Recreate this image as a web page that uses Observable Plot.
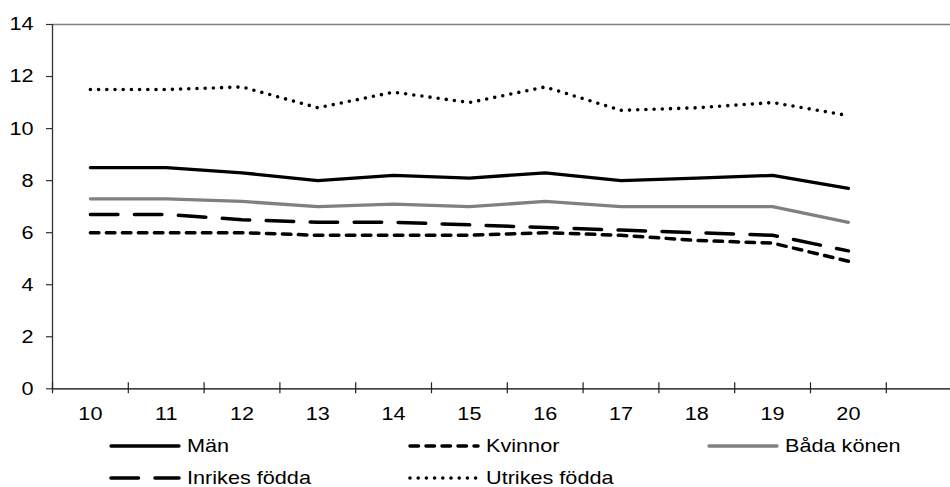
<!DOCTYPE html>
<html>
<head>
<meta charset="utf-8">
<script src="https://cdn.jsdelivr.net/npm/d3@7"></script>
<script src="https://cdn.jsdelivr.net/npm/@observablehq/plot@0.6"></script>
<style>
  html, body { margin: 0; padding: 0; background: #fff; overflow: hidden; }
  body { width: 950px; height: 487px; font-family: "Liberation Sans", Arial, sans-serif; }
  #chart svg { overflow: hidden; }
  #legend { position: relative; width: 950px; height: 55px; }
  .item { position: absolute; display: flex; align-items: center; font-size: 18.5px; color: #000; line-height: 1; }
  .item svg { display: block; margin-right: 6px; }
  .item span { display: inline-block; transform: scaleX(1.17); transform-origin: 0 50%; }
</style>
</head>
<body>
<div id="chart"></div>
<div id="legend"></div>
<script>
// ---- data ----
const years = ["10", "11", "12", "13", "14", "15", "16", "17", "18", "19", "20"];
const man     = [8.5, 8.5, 8.3, 8.0, 8.2, 8.1, 8.3, 8.0, 8.1, 8.2, 7.7];
const kvinnor = [6.0, 6.0, 6.0, 5.9, 5.9, 5.9, 6.0, 5.9, 5.7, 5.6, 4.9];
const bada    = [7.3, 7.3, 7.2, 7.0, 7.1, 7.0, 7.2, 7.0, 7.0, 7.0, 6.4];
const inrikes = [6.7, 6.7, 6.5, 6.4, 6.4, 6.3, 6.2, 6.1, 6.0, 5.9, 5.3];
const utrikes = [11.5, 11.5, 11.6, 10.8, 11.4, 11.0, 11.6, 10.7, 10.8, 11.0, 10.5];
const yTicks = [0, 2, 4, 6, 8, 10, 12, 14];
const seriesNames = ["Män", "Kvinnor", "Båda könen", "Inrikes födda", "Utrikes födda"];

// ---- styles ----
const styles = {
  "Män":           {values: man,     stroke: "#000",    width: 3.3, dash: null},
  "Kvinnor":       {values: kvinnor, stroke: "#000",    width: 3.5, dash: "8.5,7.5"},
  "Båda könen":    {values: bada,    stroke: "#808080", width: 3.3, dash: null},
  "Inrikes födda": {values: inrikes, stroke: "#000",    width: 3.5, dash: "27.5,16.5"},
  "Utrikes födda": {values: utrikes, stroke: "#000",    width: 3.6, dash: "0,8.2"}
};

const nBands = years.length + 1; // one empty category after the last year
const bandIdx = d3.range(nBands + 1);

const lineMarks = seriesNames.map(name => {
  const s = styles[name];
  const data = years.map((y, i) => ({i: i + 0.5, v: s.values[i]}));
  return Plot.line(data, {
    x: "i", y: "v",
    stroke: s.stroke, strokeWidth: s.width,
    strokeDasharray: s.dash || undefined,
    strokeLinecap: "round", strokeLinejoin: "round"
  });
});

const chart = Plot.plot({
  width: 950,
  height: 432,
  marginLeft: 52,
  marginTop: 24,
  marginBottom: 43.7,
  marginRight: 0,
  style: {fontFamily: "Liberation Sans, Arial, sans-serif", fontSize: "18.5px", color: "#000", background: "#fff"},
  x: {domain: [0, nBands], range: [52, 52 + 75.8 * nBands], axis: null},
  y: {domain: [0, 14], axis: null},
  marks: [
    Plot.ruleY([14], {x1: 0, x2: nBands, stroke: "#808080", strokeWidth: 1.3}),
    Plot.axisY({ticks: yTicks, label: null, tickSize: 6, tickPadding: 13, fontSize: 18.5, stroke: "#333", strokeWidth: 1.2, strokeOpacity: 1}),
    Plot.ruleX([0], {y1: 0, y2: 14, stroke: "#333", strokeWidth: 1.3}),
    ...lineMarks,
    Plot.ruleY([0], {x1: 0, x2: nBands, stroke: "#000", strokeWidth: 1.3}),
    Plot.ruleX(bandIdx, {x: d => d, y1: 0, y2: 0, insetTop: -6, insetBottom: -5, stroke: "#222", strokeWidth: 1.2}),
    Plot.text(years, {x: (d, i) => i + 0.5, y: () => 0, text: d => d, dy: 25, fontSize: 18.5, fill: "#000", lineAnchor: "middle"})
  ]
});
// widen the text horizontally (about its anchor) to match the reference's lettering
chart.querySelectorAll("text").forEach(t => {
  const x = parseFloat(t.getAttribute("x")) || 0;
  const tr = t.getAttribute("transform") || "";
  t.setAttribute("transform", `${tr} translate(${x},0) scale(1.17,1) translate(${-x},0)`.trim());
});
document.getElementById("chart").appendChild(chart);

// ---- legend ----
const legend = document.getElementById("legend");
const positions = {
  "Män": [111, 14], "Kvinnor": [410, 14], "Båda könen": [709, 14],
  "Inrikes födda": [111, 46], "Utrikes födda": [410, 46]
};
seriesNames.forEach(name => {
  const s = styles[name];
  const [left, cy] = positions[name];
  const item = document.createElement("div");
  item.className = "item";
  item.style.left = (left - 2) + "px";
  item.style.top = (cy - 11) + "px";
  item.style.height = "22px";
  const dash = s.dash ? ` stroke-dasharray="${s.dash}"` : "";
  item.innerHTML = `<svg width="72" height="22"><line x1="2" y1="11" x2="70" y2="11" stroke="${s.stroke}" stroke-width="${s.width}" stroke-linecap="round"${dash}/></svg><span>${name}</span>`;
  legend.appendChild(item);
});
</script>
</body>
</html>
